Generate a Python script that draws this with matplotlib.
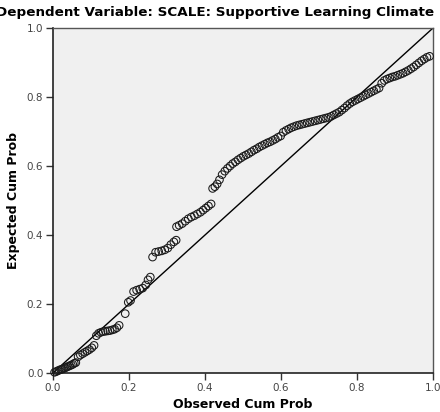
import numpy as np
import matplotlib
matplotlib.use("Agg")
import matplotlib.pyplot as plt

title = "Dependent Variable: SCALE: Supportive Learning Climate"
xlabel = "Observed Cum Prob"
ylabel = "Expected Cum Prob"
ticks = [0.0, 0.2, 0.4, 0.6, 0.8, 1.0]

# observed cumulative probability (x)
obs = [0.004, 0.008, 0.012, 0.016, 0.020, 0.024, 0.028, 0.032, 0.036, 0.040,
       0.044, 0.048, 0.052, 0.056, 0.060,
       0.066, 0.072, 0.078, 0.084, 0.090, 0.096, 0.102, 0.108,
       0.114, 0.120, 0.126, 0.132, 0.138, 0.144, 0.150, 0.156, 0.162, 0.168, 0.174,
       0.190, 0.198, 0.204,
       0.212, 0.220, 0.228, 0.236, 0.244, 0.250, 0.256,
       0.262, 0.270, 0.278, 0.286, 0.294, 0.302, 0.310, 0.318, 0.324,
       0.325, 0.332, 0.340, 0.348, 0.356, 0.364, 0.372, 0.380, 0.388,
       0.395, 0.402, 0.409, 0.416,
       0.420, 0.426, 0.432,
       0.438, 0.445, 0.452, 0.459, 0.466, 0.473, 0.480, 0.487, 0.494, 0.501,
       0.508, 0.515, 0.522, 0.529, 0.536, 0.543, 0.550, 0.557, 0.564, 0.571,
       0.578, 0.585, 0.592, 0.599,
       0.606, 0.613, 0.620, 0.627, 0.634, 0.641, 0.648, 0.655, 0.662, 0.669,
       0.676, 0.683, 0.690, 0.697, 0.704, 0.711, 0.718, 0.725, 0.732, 0.739,
       0.746, 0.753, 0.760, 0.767, 0.774, 0.781,
       0.788, 0.795, 0.802, 0.809, 0.816, 0.823, 0.830, 0.837, 0.844, 0.851,
       0.858, 0.865, 0.872, 0.879, 0.886, 0.893, 0.900, 0.907, 0.914, 0.921,
       0.928, 0.935, 0.942, 0.949, 0.956, 0.963, 0.970, 0.977, 0.984, 0.991]

# expected cumulative probability (y)
exp_p = [0.002, 0.004, 0.006, 0.008, 0.010, 0.011, 0.013, 0.015, 0.017, 0.019,
         0.021, 0.023, 0.025, 0.028, 0.030,
         0.047, 0.052, 0.056, 0.060, 0.064, 0.068, 0.073, 0.080,
         0.108, 0.115, 0.118, 0.120, 0.121, 0.122, 0.123, 0.125, 0.127, 0.131, 0.138,
         0.172, 0.205, 0.210,
         0.236, 0.240, 0.243, 0.246, 0.255, 0.270, 0.278,
         0.336, 0.350, 0.352, 0.354, 0.357, 0.362, 0.372, 0.380, 0.385,
         0.424, 0.428, 0.433, 0.440, 0.447, 0.452, 0.456, 0.461, 0.466,
         0.472, 0.478, 0.484, 0.490,
         0.535, 0.540, 0.548,
         0.560, 0.575, 0.585, 0.593, 0.600, 0.607, 0.612, 0.618, 0.623, 0.628,
         0.632, 0.636, 0.641, 0.646, 0.650, 0.655, 0.659, 0.663, 0.667, 0.670,
         0.674, 0.678, 0.683, 0.687,
         0.698, 0.703, 0.707, 0.711, 0.714, 0.717, 0.719, 0.721, 0.723, 0.725,
         0.727, 0.729, 0.731, 0.733, 0.735, 0.737, 0.739, 0.741, 0.744, 0.748,
         0.752, 0.756, 0.762, 0.768, 0.775, 0.781,
         0.786, 0.790, 0.794, 0.798, 0.802, 0.806, 0.810, 0.814, 0.818, 0.822,
         0.826, 0.840, 0.848, 0.852, 0.855, 0.858, 0.860, 0.863, 0.866, 0.869,
         0.873, 0.877, 0.882, 0.887, 0.893, 0.899, 0.905, 0.910, 0.915, 0.918]

fig = plt.figure(figsize=(4.4, 4.12), dpi=100)
ax = fig.add_axes([0.1205, 0.0947, 0.8636, 0.8373])
ax.set_facecolor("#f0f0f0")

ax.plot([0, 1], [0, 1], color="black", lw=1.0, zorder=2)
ax.scatter(obs, exp_p, s=30, facecolors="none", edgecolors="#1a1a1a",
           linewidths=0.75, zorder=3, clip_on=False)

ax.set_xlim(0, 1)
ax.set_ylim(0, 1)
ax.set_xticks(ticks)
ax.set_yticks(ticks)
ax.set_xticklabels(["%.1f" % t for t in ticks])
ax.set_yticklabels(["%.1f" % t for t in ticks])
ax.tick_params(direction="out", length=5, width=1, color="#333333",
               labelsize=7.5, labelcolor="#444444", pad=2)

for side in ["left", "bottom"]:
    ax.spines[side].set_color("#222222")
    ax.spines[side].set_linewidth(1.2)
for side in ["top", "right"]:
    ax.spines[side].set_color("#555555")
    ax.spines[side].set_linewidth(1.0)

ax.set_xlabel(xlabel, fontsize=9, fontweight="bold", labelpad=4)
ax.set_ylabel(ylabel, fontsize=9, fontweight="bold", labelpad=5)
fig.text(0.488, 0.970, title, ha="center", va="center", fontsize=9.7,
         fontweight="bold")

fig.savefig("out.png", dpi=100)
